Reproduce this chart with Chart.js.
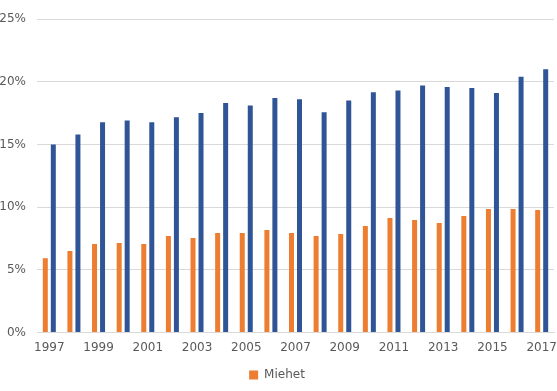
<!DOCTYPE html>
<html>
<head>
<meta charset="utf-8">
<script src="https://cdn.jsdelivr.net/npm/chart.js@4"></script>
<style>
    body { margin: 0; background: #fff; }
    #conteiner { width: 557px; height: 391px; position: relative; }
</style>
</head>
<body>
<div id="conteiner"><canvas id="grafico"></canvas></div>
<script>
const vuodet = ['1997', '1998', '1999', '2000', '2001', '2002', '2003', '2004', '2005', '2006', '2007',
    '2008', '2009', '2010', '2011', '2012', '2013', '2014', '2015', '2016', '2017'];
const miehet = [5.93, 6.5, 7.06, 7.14, 7.06, 7.7, 7.54, 7.94, 7.94, 8.18, 7.94,
    7.7, 7.86, 8.5, 9.14, 8.98, 8.74, 9.3, 9.86, 9.86, 9.78];
const naiset = [15.0, 15.8, 16.76, 16.9, 16.76, 17.16, 17.5, 18.3, 18.1, 18.7, 18.6,
    17.56, 18.5, 19.17, 19.3, 19.7, 19.57, 19.5, 19.1, 20.4, 21.0];
const yTicks = [0, 5, 10, 15, 20, 25];

const ctx = document.getElementById('grafico');
const harmaa = '#595959';
const fonte = { size: 12, family: 'DejaVu Sans' };

new Chart(ctx, {
    type: 'bar',
    data: {
        labels: vuodet,
        datasets: [{
            label: 'Miehet',
            data: miehet,
            backgroundColor: '#ed7d31',
            barPercentage: 0.625,
            categoryPercentage: 0.65
        }, {
            label: 'Naiset',
            data: naiset,
            backgroundColor: '#2f5597',
            barPercentage: 0.625,
            categoryPercentage: 0.65
        }]
    },
    options: {
        responsive: true,
        maintainAspectRatio: false,
        animation: false,
        layout: { padding: { top: 19, right: 3, bottom: 0, left: 0 } },
        plugins: {
            tooltip: { enabled: false },
            legend: {
                position: 'bottom',
                labels: {
                    color: harmaa,
                    font: fonte,
                    boxWidth: 9,
                    boxHeight: 9,
                    padding: 6,
                    filter: item => item.text === 'Miehet'
                }
            }
        },
        scales: {
            x: {
                afterFit: axis => { axis.paddingLeft = 0; axis.paddingRight = 0; },
                grid: { display: false, drawTicks: false },
                border: { color: '#d9d9d9', width: 1 },
                ticks: {
                    color: harmaa,
                    font: fonte,
                    padding: 8,
                    autoSkip: false,
                    maxRotation: 0,
                    callback: (v, i) => i % 2 === 0 ? vuodet[i] : ''
                }
            },
            y: {
                min: 0,
                max: 25,
                afterBuildTicks: axis => { axis.ticks = yTicks.map(v => ({ value: v })); },
                afterFit: axis => { axis.width = 37; },
                grid: { color: '#d9d9d9', drawTicks: false },
                border: { display: false },
                ticks: {
                    color: harmaa,
                    font: fonte,
                    padding: 11,
                    callback: v => v + '%'
                }
            }
        }
    }
});
</script>
</body>
</html>
